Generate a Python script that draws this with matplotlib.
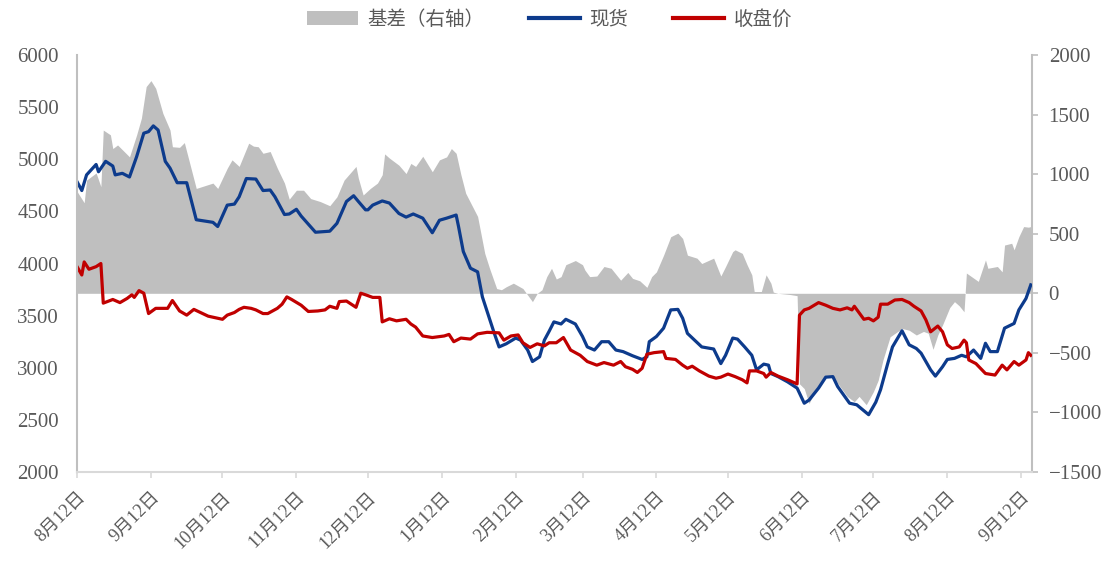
import matplotlib
matplotlib.use("Agg")
import matplotlib.pyplot as plt
import matplotlib.dates as mdates
from matplotlib.patches import Patch
from matplotlib.lines import Line2D
import pandas as pd

plt.rcParams['font.family'] = ['Liberation Serif', 'Noto Sans CJK SC']

# ---------------- data ----------------
spot_dates = [
    "2021-08-12", "2021-08-14", "2021-08-16", "2021-08-20", "2021-08-21", "2021-08-24", "2021-08-27", "2021-08-28",
    "2021-08-31", "2021-09-03", "2021-09-06", "2021-09-09", "2021-09-11", "2021-09-13", "2021-09-15", "2021-09-18",
    "2021-09-20", "2021-09-23", "2021-09-27", "2021-10-01", "2021-10-08", "2021-10-10", "2021-10-14", "2021-10-17",
    "2021-10-19", "2021-10-22", "2021-10-26", "2021-10-29", "2021-11-01", "2021-11-03", "2021-11-07", "2021-11-09",
    "2021-11-12", "2021-11-14", "2021-11-20", "2021-11-26", "2021-11-29", "2021-12-03", "2021-12-06", "2021-12-08",
    "2021-12-11", "2021-12-12", "2021-12-14", "2021-12-18", "2021-12-21", "2021-12-25", "2021-12-28", "2021-12-31",
    "2022-01-04", "2022-01-08", "2022-01-11", "2022-01-14", "2022-01-18", "2022-01-19", "2022-01-21", "2022-01-24",
    "2022-01-27", "2022-01-29", "2022-02-03", "2022-02-05", "2022-02-08", "2022-02-12", "2022-02-14", "2022-02-17",
    "2022-02-19", "2022-02-22", "2022-02-24", "2022-02-26", "2022-02-28", "2022-03-03", "2022-03-05", "2022-03-09",
    "2022-03-12", "2022-03-14", "2022-03-17", "2022-03-20", "2022-03-23", "2022-03-26", "2022-03-29", "2022-04-02",
    "2022-04-06", "2022-04-08", "2022-04-09", "2022-04-12", "2022-04-15", "2022-04-18", "2022-04-21", "2022-04-23",
    "2022-04-25", "2022-04-28", "2022-05-01", "2022-05-06", "2022-05-09", "2022-05-11", "2022-05-14", "2022-05-16",
    "2022-05-19", "2022-05-22", "2022-05-24", "2022-05-27", "2022-05-29", "2022-05-30", "2022-06-02", "2022-06-06",
    "2022-06-10", "2022-06-13", "2022-06-15", "2022-06-19", "2022-06-22", "2022-06-25", "2022-06-27", "2022-07-02",
    "2022-07-05", "2022-07-10", "2022-07-13", "2022-07-15", "2022-07-18", "2022-07-20", "2022-07-24", "2022-07-27",
    "2022-07-30", "2022-08-01", "2022-08-05", "2022-08-07", "2022-08-10", "2022-08-12", "2022-08-15", "2022-08-18",
    "2022-08-20", "2022-08-23", "2022-08-26", "2022-08-28", "2022-08-30", "2022-09-02", "2022-09-05", "2022-09-09",
    "2022-09-11", "2022-09-14", "2022-09-16",
]
spot_values = [
    4785, 4700, 4850, 4950, 4880, 4980, 4935, 4850,
    4865, 4830, 5025, 5250, 5265, 5320, 5280, 4980,
    4915, 4775, 4775, 4420, 4395, 4355, 4560, 4570,
    4640, 4815, 4810, 4700, 4705, 4640, 4470, 4475,
    4520, 4455, 4300, 4310, 4385, 4595, 4650, 4595,
    4515, 4515, 4560, 4600, 4580, 4480, 4445, 4475,
    4435, 4295, 4415, 4435, 4465, 4355, 4115, 3955,
    3920, 3680, 3330, 3200, 3230, 3285, 3265, 3170,
    3060, 3105, 3265, 3350, 3440, 3420, 3465, 3420,
    3300, 3200, 3170, 3250, 3250, 3170, 3155, 3115,
    3080, 3105, 3250, 3300, 3380, 3555, 3560, 3475,
    3330, 3265, 3200, 3180, 3040, 3120, 3285, 3275,
    3200, 3120, 2980, 3035, 3025, 2945, 2915, 2865,
    2805, 2660, 2690, 2805, 2910, 2915, 2820, 2660,
    2645, 2550, 2670, 2790, 3040, 3200, 3355, 3220,
    3185, 3140, 2980, 2920, 3010, 3080, 3090, 3120,
    3105, 3170, 3090, 3235, 3155, 3155, 3380, 3425,
    3555, 3665, 3795,
]

futures_dates = [
    "2021-08-12", "2021-08-14", "2021-08-15", "2021-08-17", "2021-08-20", "2021-08-22", "2021-08-23", "2021-08-27",
    "2021-08-30", "2021-09-02", "2021-09-04", "2021-09-05", "2021-09-07", "2021-09-09", "2021-09-11", "2021-09-14",
    "2021-09-19", "2021-09-21", "2021-09-24", "2021-09-27", "2021-09-30", "2021-10-06", "2021-10-10", "2021-10-12",
    "2021-10-14", "2021-10-17", "2021-10-19", "2021-10-21", "2021-10-24", "2021-10-26", "2021-10-29", "2021-10-31",
    "2021-11-04", "2021-11-06", "2021-11-08", "2021-11-10", "2021-11-14", "2021-11-17", "2021-11-21", "2021-11-24",
    "2021-11-26", "2021-11-29", "2021-11-30", "2021-12-03", "2021-12-07", "2021-12-09", "2021-12-11", "2021-12-14",
    "2021-12-17", "2021-12-18", "2021-12-21", "2021-12-24", "2021-12-28", "2021-12-30", "2022-01-01", "2022-01-04",
    "2022-01-08", "2022-01-13", "2022-01-15", "2022-01-17", "2022-01-20", "2022-01-24", "2022-01-27", "2022-01-31",
    "2022-02-05", "2022-02-07", "2022-02-10", "2022-02-13", "2022-02-15", "2022-02-18", "2022-02-21", "2022-02-24",
    "2022-02-26", "2022-03-01", "2022-03-04", "2022-03-07", "2022-03-11", "2022-03-14", "2022-03-18", "2022-03-21",
    "2022-03-25", "2022-03-28", "2022-03-30", "2022-04-02", "2022-04-04", "2022-04-06", "2022-04-08", "2022-04-11",
    "2022-04-15", "2022-04-16", "2022-04-20", "2022-04-23", "2022-04-25", "2022-04-27", "2022-04-30", "2022-05-04",
    "2022-05-07", "2022-05-09", "2022-05-12", "2022-05-15", "2022-05-18", "2022-05-20", "2022-05-21", "2022-05-24",
    "2022-05-27", "2022-05-28", "2022-05-30", "2022-06-02", "2022-06-06", "2022-06-10", "2022-06-11", "2022-06-13",
    "2022-06-15", "2022-06-19", "2022-06-22", "2022-06-25", "2022-06-28", "2022-07-01", "2022-07-03", "2022-07-04",
    "2022-07-08", "2022-07-10", "2022-07-12", "2022-07-14", "2022-07-15", "2022-07-18", "2022-07-21", "2022-07-24",
    "2022-07-27", "2022-07-29", "2022-08-01", "2022-08-03", "2022-08-05", "2022-08-08", "2022-08-10", "2022-08-12",
    "2022-08-14", "2022-08-17", "2022-08-19", "2022-08-20", "2022-08-21", "2022-08-24", "2022-08-28", "2022-09-01",
    "2022-09-04", "2022-09-06", "2022-09-09", "2022-09-11", "2022-09-14", "2022-09-15", "2022-09-16",
]
futures_values = [
    3970, 3890, 4015, 3945, 3970, 4000, 3620, 3655,
    3625, 3665, 3700, 3675, 3740, 3715, 3520, 3570,
    3570, 3645, 3545, 3505, 3560, 3495, 3475, 3465,
    3505, 3530, 3560, 3580, 3570, 3555, 3520, 3520,
    3570, 3610, 3680, 3655, 3600, 3540, 3545, 3555,
    3590, 3570, 3635, 3640, 3580, 3715, 3700, 3675,
    3675, 3440, 3470, 3450, 3465, 3420, 3390, 3305,
    3290, 3305, 3320, 3250, 3285, 3275, 3325, 3340,
    3335, 3265, 3305, 3315, 3240, 3195, 3230, 3210,
    3240, 3240, 3290, 3170, 3120, 3060, 3025, 3050,
    3025, 3060, 3010, 2985, 2955, 2995, 3130, 3145,
    3155, 3090, 3080, 3025, 2995, 3015, 2970, 2920,
    2900, 2910, 2940, 2915, 2885, 2855, 2970, 2970,
    2945, 2910, 2955, 2920, 2885, 2845, 3505, 3555,
    3570, 3625, 3600, 3570, 3555, 3575, 3555, 3590,
    3465, 3475, 3450, 3485, 3610, 3610, 3650, 3655,
    3625, 3590, 3545, 3460, 3345, 3400, 3345, 3220,
    3185, 3200, 3265, 3240, 3075, 3040, 2945, 2930,
    3025, 2980, 3060, 3025, 3075, 3145, 3120,
]

basis_dates = [
    "2021-08-12", "2021-08-15", "2021-08-16", "2021-08-20", "2021-08-22", "2021-08-23", "2021-08-26", "2021-08-27",
    "2021-08-29", "2021-08-31", "2021-09-03", "2021-09-06", "2021-09-08", "2021-09-10", "2021-09-12", "2021-09-14",
    "2021-09-17", "2021-09-20", "2021-09-21", "2021-09-24", "2021-09-26", "2021-10-01", "2021-10-08", "2021-10-10",
    "2021-10-14", "2021-10-16", "2021-10-19", "2021-10-23", "2021-10-25", "2021-10-27", "2021-10-29", "2021-11-01",
    "2021-11-04", "2021-11-07", "2021-11-09", "2021-11-12", "2021-11-15", "2021-11-18", "2021-11-22", "2021-11-26",
    "2021-11-29", "2021-12-02", "2021-12-07", "2021-12-08", "2021-12-10", "2021-12-13", "2021-12-16", "2021-12-18",
    "2021-12-19", "2021-12-21", "2021-12-25", "2021-12-28", "2021-12-30", "2022-01-01", "2022-01-04", "2022-01-08",
    "2022-01-11", "2022-01-14", "2022-01-16", "2022-01-18", "2022-01-20", "2022-01-22", "2022-01-27", "2022-01-30",
    "2022-02-01", "2022-02-04", "2022-02-06", "2022-02-08", "2022-02-11", "2022-02-15", "2022-02-17", "2022-02-19",
    "2022-02-21", "2022-02-23", "2022-02-25", "2022-02-27", "2022-03-01", "2022-03-03", "2022-03-05", "2022-03-09",
    "2022-03-12", "2022-03-13", "2022-03-15", "2022-03-18", "2022-03-21", "2022-03-24", "2022-03-28", "2022-03-31",
    "2022-04-02", "2022-04-05", "2022-04-08", "2022-04-10", "2022-04-12", "2022-04-15", "2022-04-18", "2022-04-21",
    "2022-04-23", "2022-04-25", "2022-04-29", "2022-05-01", "2022-05-06", "2022-05-09", "2022-05-11", "2022-05-14",
    "2022-05-15", "2022-05-18", "2022-05-20", "2022-05-22", "2022-05-23", "2022-05-26", "2022-05-28", "2022-05-30",
    "2022-05-31", "2022-06-02", "2022-06-07", "2022-06-10", "2022-06-11", "2022-06-13", "2022-06-15", "2022-06-18",
    "2022-06-22", "2022-06-25", "2022-06-27", "2022-07-01", "2022-07-04", "2022-07-06", "2022-07-09", "2022-07-12",
    "2022-07-14", "2022-07-16", "2022-07-19", "2022-07-24", "2022-07-27", "2022-07-30", "2022-08-02", "2022-08-04",
    "2022-08-06", "2022-08-08", "2022-08-10", "2022-08-13", "2022-08-15", "2022-08-17", "2022-08-19", "2022-08-20",
    "2022-08-25", "2022-08-28", "2022-08-29", "2022-09-02", "2022-09-04", "2022-09-05", "2022-09-08", "2022-09-09",
    "2022-09-11", "2022-09-13", "2022-09-15", "2022-09-16",
]
basis_values = [
    855, 760, 950, 1010, 895, 1370, 1330, 1215,
    1245, 1205, 1145, 1330, 1470, 1735, 1785, 1720,
    1510, 1370, 1230, 1225, 1265, 880, 925, 880,
    1050, 1120, 1065, 1260, 1235, 1230, 1175, 1190,
    1050, 925, 790, 865, 865, 795, 770, 735,
    810, 950, 1065, 965, 825, 880, 925, 995,
    1170, 1135, 1075, 1005, 1090, 1065, 1150, 1020,
    1120, 1145, 1215, 1175, 995, 840, 645, 335,
    210, 40, 30, 55, 85, 40, -15, -70,
    0, 30, 140, 210, 120, 140, 240, 275,
    240, 195, 140, 145, 225, 210, 110, 175,
    125, 105, 50, 140, 180, 320, 475, 505,
    460, 320, 295, 250, 295, 145, 225, 350,
    365, 335, 240, 155, 15, 15, 155, 85,
    10, 0, -10, -20, -760, -800, -925, -800,
    -700, -695, -755, -865, -910, -865, -935, -825,
    -730, -560, -365, -295, -310, -350, -320, -335,
    -470, -350, -265, -120, -70, -105, -155, 170,
    100, 280, 210, 225, 180, 405, 420, 365,
    475, 560, 555, 560,
]

tick_dates = ["2021-08-12", "2021-09-12", "2021-10-12", "2021-11-12", "2021-12-12", "2022-01-12", "2022-02-12",
              "2022-03-12", "2022-04-12", "2022-05-12", "2022-06-12", "2022-07-12", "2022-08-12", "2022-09-12"]
tick_labels = ["8月12日", "9月12日", "10月12日", "11月12日", "12月12日", "1月12日", "2月12日",
               "3月12日", "4月12日", "5月12日", "6月12日", "7月12日", "8月12日", "9月12日"]

left_ticks = [2000, 2500, 3000, 3500, 4000, 4500, 5000, 5500, 6000]
right_ticks = [-1500, -1000, -500, 0, 500, 1000, 1500, 2000]

series_names = ["基差（右轴）", "现货", "收盘价"]

# ---------------- styles ----------------
GRAY_FILL = "#BFBFBF"
BLUE = "#0D3B8C"
RED = "#C00000"
TXT = "#595959"
AXC = "#BFBFBF"

fig = plt.figure(figsize=(11.1, 5.67), dpi=100)
ax = fig.add_axes([0.0694, 0.1675, 0.8603, 0.7355])
ax2 = ax.twinx()

ax2.fill_between(pd.to_datetime(basis_dates), 0, basis_values, color=GRAY_FILL, linewidth=0)
ax.set_zorder(ax2.get_zorder() + 1)
ax.patch.set_visible(False)

ax.plot(pd.to_datetime(spot_dates), spot_values, color=BLUE, lw=2.3, solid_joinstyle='round')
ax.plot(pd.to_datetime(futures_dates), futures_values, color=RED, lw=2.3, solid_joinstyle='round')

ax.set_xlim(pd.Timestamp("2021-08-12"), pd.Timestamp("2022-09-16 12:00"))
ax.set_ylim(2000, 6000)
ax2.set_ylim(-1500, 2000)
ax.set_yticks(left_ticks)
ax2.set_yticks(right_ticks)
ax.set_xticks(pd.to_datetime(tick_dates))
ax.set_xticklabels(tick_labels, rotation=45, ha='right', rotation_mode='anchor')

for s in ["top", "right"]:
    ax.spines[s].set_visible(False)
for s in ["top", "left", "bottom"]:
    ax2.spines[s].set_visible(False)
ax.spines["left"].set_color(AXC)
ax.spines["left"].set_linewidth(1.5)
ax.spines["bottom"].set_color("#D9D9D9")
ax.spines["bottom"].set_linewidth(1.5)
ax2.spines["right"].set_color(AXC)
ax2.spines["right"].set_linewidth(1.5)

ax.tick_params(axis='y', length=0, pad=13, labelsize=15, labelcolor=TXT)
ax2.tick_params(axis='y', length=4, width=1.2, color=AXC, pad=8, labelsize=15, labelcolor=TXT)
ax.tick_params(axis='x', length=4, width=1.2, color="#D9D9D9", pad=8, labelsize=13, labelcolor=TXT)

handles = [
    Patch(facecolor=GRAY_FILL, edgecolor='none'),
    Line2D([0], [0], color=BLUE, lw=3),
    Line2D([0], [0], color=RED, lw=3),
]
leg = fig.legend(handles, series_names, loc='center', bbox_to_anchor=(0.495, 0.966), ncol=3,
                 frameon=False, fontsize=14, handlelength=2.6, handletextpad=0.5, columnspacing=2.3)
for t in leg.get_texts():
    t.set_color(TXT)

fig.savefig("out.png", dpi=100)
